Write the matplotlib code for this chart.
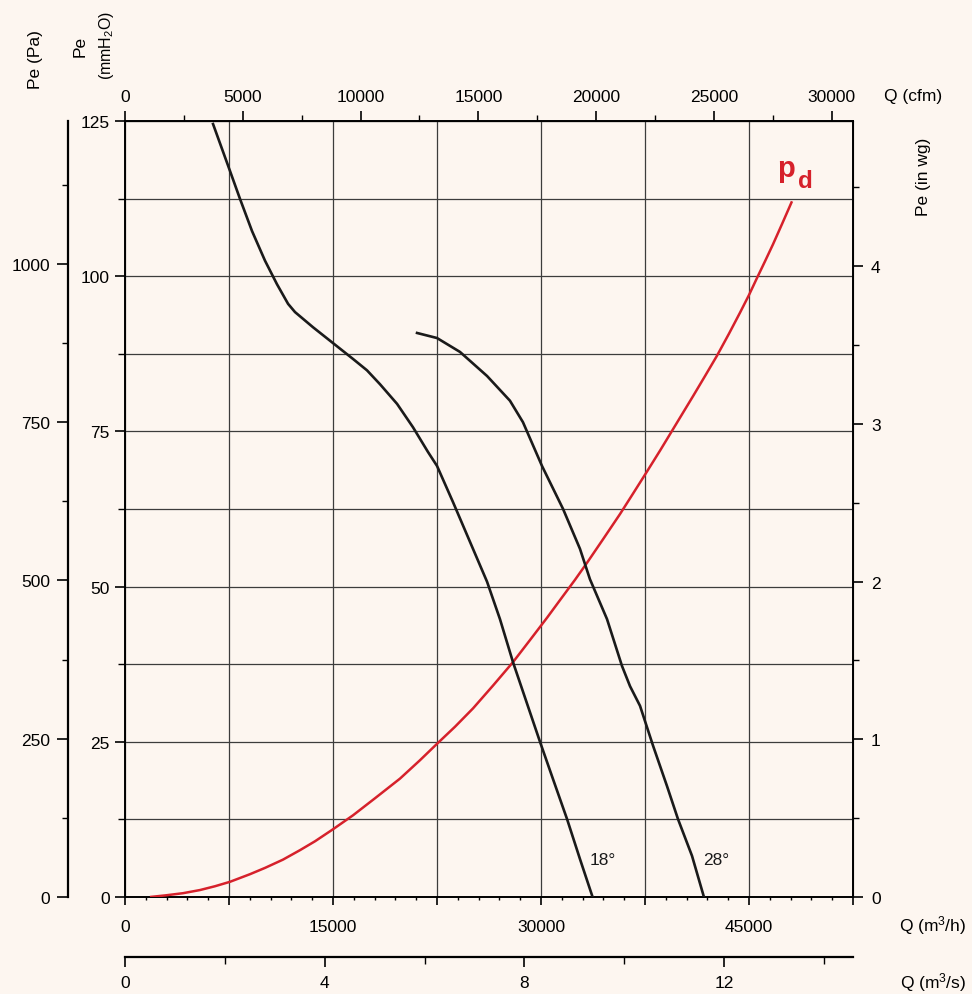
import numpy as np
import matplotlib
matplotlib.use('Agg')
import matplotlib.pyplot as plt
from matplotlib.ticker import FixedLocator, MultipleLocator, FuncFormatter

plt.rcParams['font.family'] = ['Liberation Sans', 'DejaVu Sans']
plt.rcParams['mathtext.fontset'] = 'custom'
plt.rcParams['mathtext.rm'] = 'Liberation Sans'
plt.rcParams['mathtext.it'] = 'Liberation Sans:italic'
plt.rcParams['mathtext.bf'] = 'Liberation Sans:bold'

# ---- data (Q in m3/h, Pe in Pa) ----
q_18 = [6350, 7570, 8290, 9160, 10100, 10960, 11760, 12260, 13560, 15000, 16440,
        17450, 18390, 19620, 20770, 21850, 22500, 23650, 24880, 26110, 27040,
        27980, 29930, 30870, 31880, 32810, 33720]
pe_18 = [1221, 1147, 1103, 1052, 1005, 968, 937, 924, 900, 875, 850,
         832, 810, 779, 742, 703, 681, 624, 561, 498, 439,
         371, 245, 186, 123, 60, 0]

q_28 = [21060, 22500, 24160, 26110, 27760, 28700, 30070, 31590, 32810, 33530,
        34760, 35840, 36420, 37140, 38080, 39090, 39880, 40890, 41750]
pe_28 = [891, 883, 861, 823, 784, 750, 681, 613, 550, 502,
         439, 365, 333, 302, 239, 175, 123, 65, 0]

q_pd = [1800, 2890, 4180, 5410, 6490, 7570, 9010, 10100, 11390, 12620,
        13700, 15000, 16440, 18030, 19830, 21270, 22500, 23800, 25100, 26540,
        27980, 29210, 30430, 31370, 32450, 33320, 34470, 35700, 36630, 37640,
        38580, 39300, 40240, 40960, 41830, 42690, 43560, 44350, 45000, 45580,
        46150, 46730, 47380, 48100]
pe_pd = [0, 2.5, 6, 11, 17, 24, 36, 46, 59, 74,
         88, 107, 129, 156, 187, 216, 242, 269, 298, 334,
         371, 406, 441, 469, 501, 528, 565, 605, 637, 672,
         705, 731, 765, 791, 823, 855, 890, 923, 951, 978,
         1004, 1031, 1063, 1099]

curve_labels = ['18°', '28°']
label_q = [33530, 41680]
label_pe = [60, 60]

Q_MAX = 52500
PA_PER_MM = 9.80665
PE_MAX = 125 * PA_PER_MM
PA_PER_INWG = 249.089
M3H_PER_CFM = 1.699011

BG = '#fdf6f0'
RED = '#d6212b'
GRID = '#3c3c3c'
FS = 12.5

W, H = 972, 995
fig = plt.figure(figsize=(W / 100, H / 100), dpi=100, facecolor=BG)
ax = fig.add_axes([125 / W, 97 / H, 728 / W, 776 / H], facecolor=BG)
ax.set_xlim(0, Q_MAX)
ax.set_ylim(0, PE_MAX)

for s in ax.spines.values():
    s.set_linewidth(1.4)
    s.set_color('black')

# bottom axis: m3/h
ax.xaxis.set_major_locator(MultipleLocator(7500))
ax.xaxis.set_minor_locator(MultipleLocator(1500))
ax.xaxis.set_major_formatter(FuncFormatter(
    lambda v, p: f'{int(round(v))}' if (round(v) % 15000 == 0 and v < 50000) else ''))
ax.tick_params(axis='x', which='major', direction='out', length=6, width=1.2,
               labelsize=FS, pad=10)
ax.tick_params(axis='x', which='minor', direction='out', length=2, width=1.0)

# left axis: mmH2O
mm_major = np.arange(0, 126, 25)
mm_minor = np.arange(12.5, 125, 25)
ax.yaxis.set_major_locator(FixedLocator(mm_major * PA_PER_MM))
ax.yaxis.set_minor_locator(FixedLocator(mm_minor * PA_PER_MM))
ax.yaxis.set_major_formatter(FuncFormatter(lambda v, p: f'{int(round(v / PA_PER_MM))}'))
ax.tick_params(axis='y', which='major', direction='out', length=7, width=1.2,
               labelsize=FS, pad=4)
ax.tick_params(axis='y', which='minor', direction='out', length=5, width=1.0)

ax.xaxis.grid(True, which='major', color=GRID, lw=0.9)
ax.yaxis.grid(True, which='both', color=GRID, lw=0.9)
ax.set_axisbelow(True)

# curves
ax.plot(q_pd, pe_pd, color=RED, lw=1.8, solid_capstyle='butt', zorder=3)
ax.plot(q_18, pe_18, color='#1a1a1a', lw=1.9, zorder=4)
ax.plot(q_28, pe_28, color='#1a1a1a', lw=1.9, zorder=4)
for t, xq, yp in zip(curve_labels, label_q, label_pe):
    ax.text(xq, yp, t, fontsize=12.5, ha='left', va='center', color='#1a1a1a')
ax.text(47000, 1139, 'p', fontsize=21, fontweight='bold', color=RED,
        ha='left', va='baseline')
ax.text(48530, 1122, 'd', fontsize=17.5, fontweight='bold', color=RED,
        ha='left', va='baseline')

# right axis: in wg
rax = ax.secondary_yaxis('right', functions=(lambda p: p / PA_PER_INWG,
                                             lambda w: w * PA_PER_INWG))
rax.yaxis.set_major_locator(FixedLocator([0, 1, 2, 3, 4]))
rax.yaxis.set_minor_locator(FixedLocator([0.5, 1.5, 2.5, 3.5, 4.5]))
rax.yaxis.set_major_formatter(FuncFormatter(lambda v, p: f'{int(round(v))}'))
rax.tick_params(which='major', direction='out', length=7, width=1.2, labelsize=FS, pad=6)
rax.tick_params(which='minor', direction='out', length=4, width=1.0)

# top axis: cfm
tax = ax.secondary_xaxis('top', functions=(lambda q: q / M3H_PER_CFM,
                                           lambda c: c * M3H_PER_CFM))
tax.xaxis.set_major_locator(FixedLocator([0, 5000, 10000, 15000, 20000, 25000, 30000]))
tax.xaxis.set_minor_locator(FixedLocator([2500, 7500, 12500, 17500, 22500, 27500]))
tax.xaxis.set_major_formatter(FuncFormatter(lambda v, p: f'{int(round(v))}'))
tax.tick_params(which='major', direction='out', length=7, width=1.2, labelsize=FS, pad=5)
tax.tick_params(which='minor', direction='out', length=4, width=1.0)

# far-left axis: Pa
pax = ax.secondary_yaxis(-57 / 728, functions=(lambda p: p, lambda p: p))
pax.yaxis.set_major_locator(FixedLocator([0, 250, 500, 750, 1000]))
pax.yaxis.set_minor_locator(FixedLocator([125, 375, 625, 875, 1125]))
pax.yaxis.set_major_formatter(FuncFormatter(lambda v, p: f'{int(round(v))}'))
pax.spines['left'].set_linewidth(1.6)
pax.tick_params(which='major', direction='out', length=8, width=1.2, labelsize=FS, pad=5)
pax.tick_params(which='minor', direction='out', length=4, width=1.0)

# lower axis: m3/s
sax = ax.secondary_xaxis(-60 / 776, functions=(lambda q: q / 3600, lambda s: s * 3600))
sax.xaxis.set_major_locator(FixedLocator([0, 4, 8, 12]))
sax.xaxis.set_minor_locator(FixedLocator([2, 6, 10, 14]))
sax.xaxis.set_major_formatter(FuncFormatter(lambda v, p: f'{int(round(v))}'))
sax.spines['bottom'].set_linewidth(1.6)
sax.tick_params(which='major', direction='out', length=7, width=1.2, labelsize=FS, pad=6)
sax.tick_params(which='minor', direction='out', length=5, width=1.0)


def ftxt(x, y, s, size=FS, **kw):
    fig.text(x / W, 1 - y / H, s, ha='center', va='center', fontsize=size, **kw)


ftxt(35, 60, 'Pe (Pa)', rotation=90)
ftxt(80, 46, 'Pe', rotation=90)
ftxt(106, 45, r'(mmH$_2$O)', size=11.5, rotation=90)
ftxt(913, 97, 'Q (cfm)')
ftxt(923, 177, 'Pe (in wg)', rotation=90)
ftxt(933, 926, r'Q (m$^3$/h)')
ftxt(933, 983, r'Q (m$^3$/s)')

fig.savefig('out.png', dpi=100, facecolor=BG)
